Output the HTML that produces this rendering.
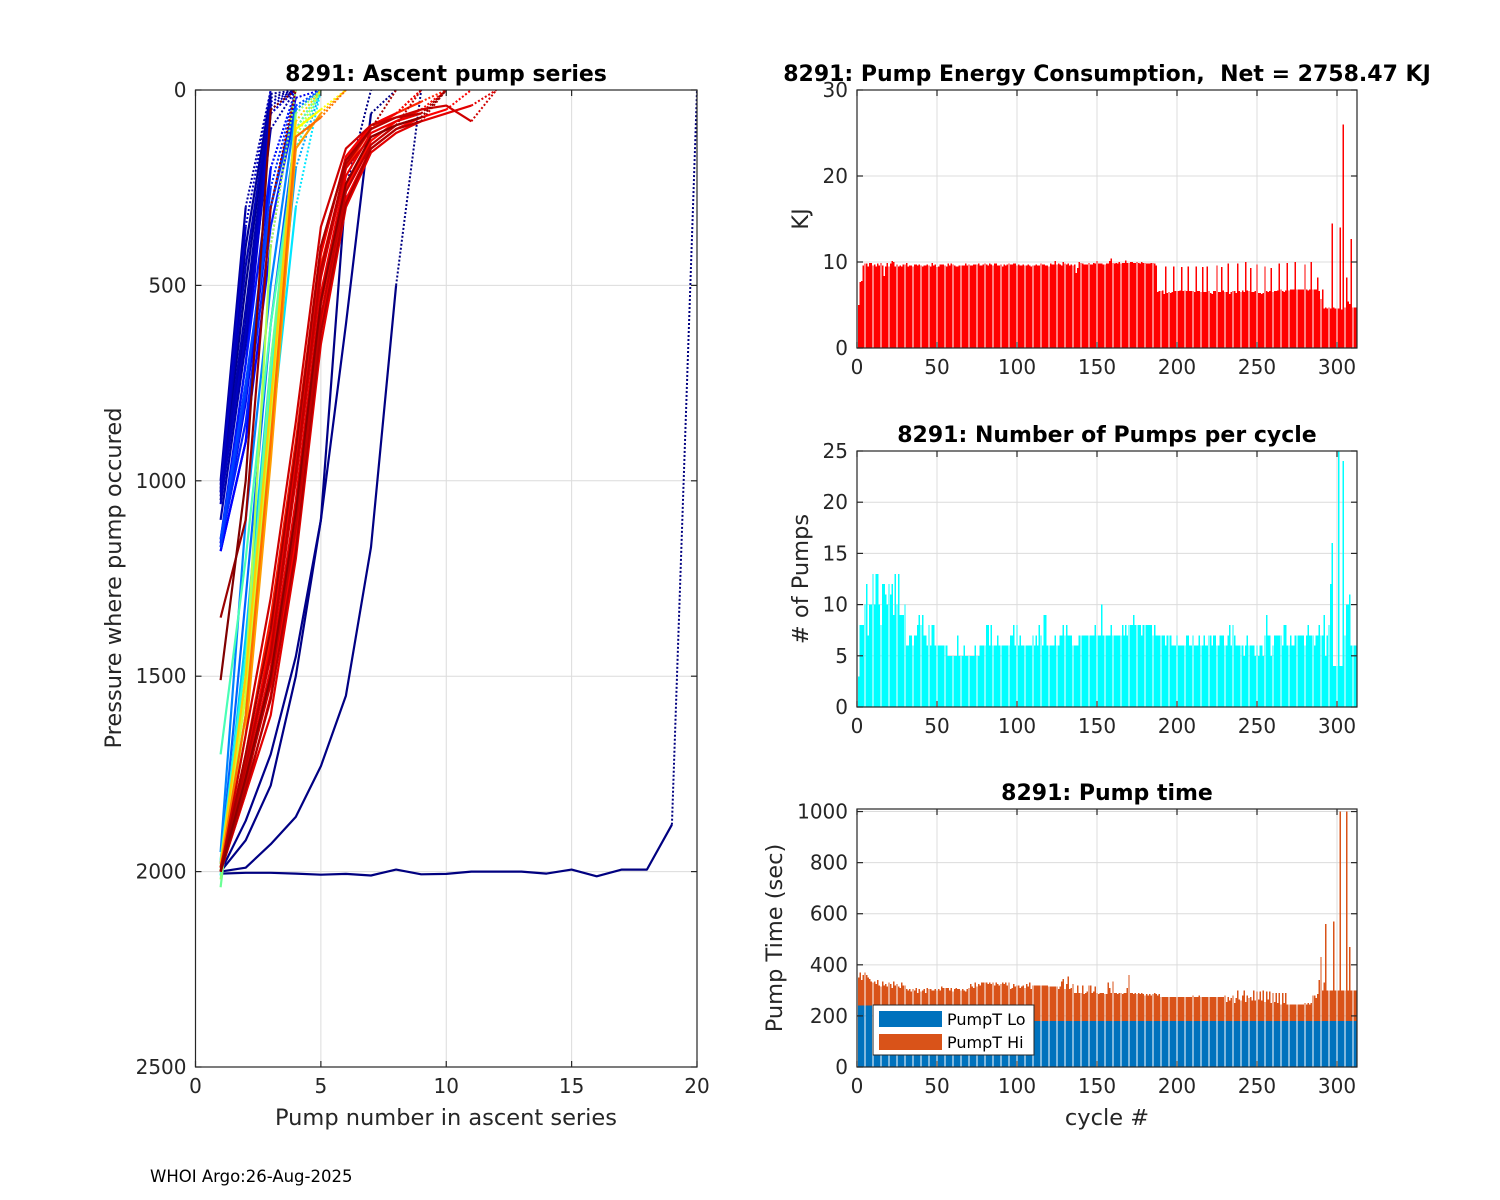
<!DOCTYPE html>
<html><head><meta charset="utf-8"><style>
html,body{margin:0;padding:0;background:#fff;}
svg{display:block;font-family:"DejaVu Sans","Liberation Sans",sans-serif;}
</style></head><body>
<svg id="fig" width="1500" height="1200" viewBox="0 0 1500 1200" xmlns="http://www.w3.org/2000/svg">
<rect width="1500" height="1200" fill="#fff"/>
<g id="left"></g>
<g id="energy"></g>
<g id="pumps"></g>
<g id="ptime"></g>
<text x="150" y="1182" font-size="16.5" fill="#000">WHOI Argo:26-Aug-2025</text>
</svg>
<script>
// ---------- data ----------
const energyKJ = [5,7.7,7.8,9.6,9.8,9.8,9.5,9.9,9.9,9.6,9.7,9.5,9.8,9.6,9.9,9.6,8.4,9.5,9.9,9.5,
9.8,10.1,10,9.5,9.7,9.5,9.6,9.5,9.7,9.7,9.9,9.5,9.6,9.6,9.5,9.7,9.7,9.6,9.7,9.6,
9.5,9.6,9.6,9.7,9.6,9.5,9.9,9.6,9.7,9.4,9.5,9.7,9.7,9.7,9.6,9.5,9.8,9.6,9.8,9.7,
9.6,9.5,9.5,9.6,9.6,9.6,9.6,9.8,9.6,9.7,9.6,9.6,9.7,9.7,9.7,9.8,9.6,9.6,9.7,9.8,
9.7,9.6,9.8,9.7,9.6,9.8,9.8,9.6,9.6,9.7,9.5,9.7,9.6,9.7,9.8,9.7,9.7,9.8,9.8,9.6,
9.7,9.6,9.6,9.7,9.6,9.6,9.7,9.6,9.5,9.6,9.6,9.7,9.6,9.6,9.8,9.7,9.7,9.6,9.6,9.5,
9.8,9.7,9.7,10.1,9.7,9.8,9.7,9.6,10,9.8,9.7,9.8,9.6,9.7,9.6,9.7,8.7,9.3,10,9.9,
9.8,9.7,9.7,9.7,9.9,9.7,9.7,9.9,9.8,10.1,9.8,9.8,9.8,9.7,9.7,9.8,9.8,10.1,10.4,9.9,
9.8,9.9,9.8,10,9.8,9.9,9.9,10.2,9.9,9.9,10,10,9.9,9.9,10,9.9,9.8,10,9.9,9.9,
9.8,9.8,9.8,9.9,9.9,9.8,9.6,6.5,6.6,6.6,6.7,6.3,9.5,6.4,6.5,6.4,6.5,9.5,6.6,6.6,
6.6,6.7,9.4,6.6,6.7,6.6,9.5,6.6,6.6,6.6,6.5,9.5,6.6,6.6,6.5,9.4,6.5,6.5,9.5,6.6,
6.4,6.3,6.6,6.6,9.6,6.5,6.5,9.4,6.7,6.5,6.5,9.8,6.3,6.5,6.6,6.6,6.4,9.8,6.6,6.5,
6.7,6.5,10,6.7,6.6,9.3,6.5,6.5,6.6,9.7,6.4,6.4,6.3,6.4,9.5,6.6,6.5,6.6,9.3,6.5,
6.6,6.6,6.7,9.8,6.8,6.6,6.5,6.7,9.9,6.7,6.8,6.8,6.8,10,6.8,6.8,6.8,6.8,6.8,9.7,
6.8,6.7,6.8,10,6.8,6.8,6.8,8.2,6.6,5.7,6.8,4.6,4.7,4.6,4.7,4.6,14.5,4.7,4.6,4.6,
4.6,14,4.5,26,4.7,8.2,5.4,5.1,12.7,4.7,4.7,4.7];

const pumpCount = [3,8,8,8,10,12,7,10,10,13,10,13,13,10,8,12,12,11,10,12,
11,12,9,13,10,13,9,9,9,10,6,6,7,7,6,7,7,8,9,8,
9,7,7,6,8,6,8,8,6,6,6,6,6,6,6,6,5,5,5,5,
5,5,7,5,5,5,6,5,5,5,5,5,5,6,5,5,6,6,6,6,
8,8,6,8,6,6,6,7,6,6,6,6,6,6,6,7,7,8,6,8,
6,7,6,6,6,6,6,6,6,7,6,7,6,8,7,6,9,9,6,6,
6,6,6,7,6,6,7,7,8,7,8,7,7,7,6,6,6,6,7,7,
7,7,7,7,7,7,7,7,8,7,7,7,10,7,7,7,7,7,8,7,
7,7,7,7,7,8,7,8,7,8,8,8,9,8,8,8,8,7,8,8,
8,8,8,8,7,8,7,7,7,7,7,7,6,7,7,7,6,6,6,7,
6,6,6,6,6,7,7,6,6,7,6,6,6,7,6,6,7,6,6,7,
7,6,7,7,6,6,7,7,7,6,6,7,8,6,8,7,6,6,6,6,
6,5,6,7,6,6,6,6,5,6,5,6,6,5,7,9,7,7,5,6,
7,7,7,7,7,6,8,8,6,6,7,6,6,7,7,7,7,7,7,6,
7,8,7,7,7,6,7,7,8,7,7,9,5,7,8,12,16,4,4,4,
25,4,4,24,7,10,10,11,6,6,6,6];

const pumpTLo = [240,240,240,240,240,240,240,240,240,240,240,240,240,240,240,240,240,240,240,240,
240,240,240,240,240,240,240,240,240,240].concat(new Array(282).fill(180));

const pumpTHi = [110,130,100,120,130,120,110,105,95,90,95,85,100,80,75,95,80,85,75,90,
85,70,95,80,85,75,70,90,80,80,
125,120,125,115,125,120,130,110,125,115,120,125,110,130,125,125,120,120,125,120,
125,120,135,130,130,130,130,120,130,115,125,130,125,125,120,125,120,115,125,130,
145,135,130,150,135,145,140,150,150,150,150,145,150,145,150,140,150,145,140,145,
150,145,150,140,150,125,130,145,135,140,140,130,135,140,130,145,135,150,125,140,
140,140,140,140,140,140,140,140,140,135,135,135,135,135,135,125,135,155,165,125,
145,175,125,130,145,110,110,140,110,110,140,105,110,115,140,140,110,115,135,110,
105,110,110,110,105,105,150,130,110,155,110,110,105,110,110,105,110,110,130,180,
110,110,105,110,105,110,105,110,105,100,105,100,105,100,105,110,105,100,105,95,
95,95,95,95,95,95,95,95,95,95,95,95,95,95,95,95,95,95,95,100,
95,95,95,100,95,95,95,95,95,95,95,95,95,95,95,95,95,95,95,100,
75,95,80,90,100,70,90,120,85,80,100,120,75,100,90,95,80,120,80,115,
85,115,80,120,75,115,85,115,70,110,75,110,70,110,65,110,70,110,65,65,
65,65,65,65,65,65,65,65,65,70,65,70,65,70,100,100,90,105,160,250,
120,150,380,120,120,120,120,390,120,120,120,820,120,120,120,820,120,290,120,120,120,120];

// ascent profiles: cycle number (for colour) and pressure at each pump
const profileCycles = [1,2,3,4,
 6,8,10,12,14,16,18,20,22,
 26,30,35,40,45,50,55,60,70,80,
 90,100,110,120,130,140,150,160,170,180,195,210,225,240,
 262,266,270,273,276,279,282,285,288,291,294,297,300,304,308,312];
const profilePressures = [
 [2005,2003,2003,2005,2008,2006,2010,1995,2007,2006,2000,2000,2000,2005,1995,2012,1995,1995,1880],
 [2000,1990,1930,1860,1730,1550,1170,500],
 [2000,1920,1780,1500,1100,250],
 [2000,1870,1700,1450,1100,600,60],
 [1030,500,20],[1020,400,10],[1050,600,50],[1000,300],[1100,650,100],[1040,560,40],[1010,450,30],[1060,620,60],[1030,350],
 [1160,700,60],[1180,900,200],[1170,800,300,20],[1180,900,400],[1150,700,200],[1160,850,350,50],[1170,780,250],[1150,750,300,40],[1980,1300,600,100],[1950,1100,500,50],
 [1990,1500,800,200],[2000,1400,700,150],[1980,1600,900,300],[2010,1500,800,100],[1970,1450,750,120],[1700,1200,600,150],[2040,1500,700,100],[2020,1600,800,60],[2000,1500,400],[1990,1550,850,120],[2000,1600,900,100,50],[1980,1500,800,80],[2000,1650,950,150,60],[1990,1600,900,120,70],
 [2000,1750,1400,1000,450,200,100,60,30],
 [1990,1700,1350,900,400,180,90,60],
 [2000,1780,1500,1100,550,250,130,80,50],
 [2000,1800,1550,1150,600,280,150,100,70,50],
 [1990,1720,1420,950,420,170,90,60],
 [2000,1760,1480,1050,520,220,110,80,60],
 [2000,1800,1600,1200,650,300,160,110,80,60,40],
 [2000,1740,1450,1000,480,200,120,90,70],
 [2000,1650,1300,850,350,150,90,70,50,40,80],
 [2000,1770,1520,1120,580,260,140,90],
 [1990,1730,1440,980,460,190,100,70,60],
 [2000,1790,1560,1180,620,290,150,100,80],
 [2000,1700,1380,920,400,180,100],
 [1350,1100,300],
 [2000,1760,1500,1080,540,240,120,90,70],
 [1510,1000,50]
];

const leftXTicks = [0,5,10,15,20];
const leftYTicks = [0,500,1000,1500,2000,2500];
const cycleTicks = [0,50,100,150,200,250,300];
const energyTicks = [0,10,20,30];
const pumpTicks = [0,5,10,15,20,25];
const timeTicks = [0,200,400,600,800,1000];

// ---------- helpers ----------
const NS = "http://www.w3.org/2000/svg";
function mk(parent, tag, attrs, txt){
  const e = document.createElementNS(NS, tag);
  for (const k in attrs) e.setAttribute(k, attrs[k]);
  if (txt !== undefined) e.textContent = txt;
  parent.appendChild(e);
  return e;
}
function jet(t){
  const r = Math.max(0, Math.min(1, 1.5 - Math.abs(4*t - 3)));
  const g = Math.max(0, Math.min(1, 1.5 - Math.abs(4*t - 2)));
  const b = Math.max(0, Math.min(1, 1.5 - Math.abs(4*t - 1)));
  return `rgb(${Math.round(r*255)},${Math.round(g*255)},${Math.round(b*255)})`;
}
const TXT = "#262626";
const TICKF = 20, LABF = 22.5, TITF = 22;

function axesFrame(g, L, T, R, B, xTicks, xFn, yTicks, yFn, name){
  xTicks.forEach(v => { const x = xFn(v); if (x > L+1 && x < R-1) { const l = mk(g,'line',{x1:x,y1:T,x2:x,y2:B,stroke:'#dcdcdc','stroke-width':1});
    
     } });
  yTicks.forEach(v => { const y = yFn(v); if (y > T+1 && y < B-1) { const l = mk(g,'line',{x1:L,y1:y,x2:R,y2:y,stroke:'#dcdcdc','stroke-width':1});
    
     } });
}
function axesBox(g, L, T, R, B, xTicks, xFn, yTicks, yFn, name, xLab){
  const box = mk(g,'rect',{x:L,y:T,width:R-L,height:B-T,fill:'none',stroke:TXT,'stroke-width':1.2});
  
  
  xTicks.forEach(v => { const x = xFn(v);
    mk(g,'line',{x1:x,y1:B,x2:x,y2:B-6,stroke:TXT,'stroke-width':1.2});
    mk(g,'line',{x1:x,y1:T,x2:x,y2:T+6,stroke:TXT,'stroke-width':1.2});
    if (xLab) { const t = mk(g,'text',{x:x,y:B+26,'font-size':TICKF,fill:TXT,'text-anchor':'middle'}, String(v));
      
       } });
  yTicks.forEach(v => { const y = yFn(v);
    mk(g,'line',{x1:L,y1:y,x2:L+6,y2:y,stroke:TXT,'stroke-width':1.2});
    mk(g,'line',{x1:R,y1:y,x2:R-6,y2:y,stroke:TXT,'stroke-width':1.2});
    const t = mk(g,'text',{x:L-9,y:y+7,'font-size':TICKF,fill:TXT,'text-anchor':'end'}, String(v));
    
     });
}

// ---------- left chart ----------
(function(){
  const g = document.getElementById('left');
  const L=195.5, R=697, T=90, B=1067;
  const xS = v => L + (R-L)*v/20;
  const yS = v => T + (B-T)*v/2500;
  axesFrame(g,L,T,R,B,leftXTicks,xS,leftYTicks,yS,'ascent');
  const clip = mk(g,'clipPath',{id:'lc'}); mk(clip,'rect',{x:L,y:T,width:R-L,height:B-T});
  const lines = mk(g,'g',{'clip-path':'url(#lc)'});
  profilePressures.forEach((pr, i) => {
    const col = jet((profileCycles[i]-1)/311);
    const pts = pr.map((p, k) => xS(k+1).toFixed(1) + ',' + yS(p).toFixed(1)).join(' ');
    const pl = mk(lines,'polyline',{points:pts,fill:'none',stroke:col,'stroke-width':2.2,'stroke-linejoin':'round'});
    
    
    const n = pr.length;
    const d = mk(lines,'line',{x1:xS(n),y1:yS(pr[n-1]),x2:xS(n+1),y2:yS(0),stroke:col,'stroke-width':2,'stroke-dasharray':'2,2'});
    
    
  });
  axesBox(g,L,T,R,B,leftXTicks,xS,leftYTicks,yS,'ascent',true);
  const t = mk(g,'text',{x:446,y:81,'font-size':TITF,'font-weight':'bold','text-anchor':'middle',fill:'#000'},'8291: Ascent pump series');
   
  const xl = mk(g,'text',{x:446,y:1125,'font-size':LABF,'text-anchor':'middle',fill:TXT},'Pump number in ascent series');
   
  const yl = mk(g,'text',{x:0,y:0,'font-size':LABF,'text-anchor':'middle',fill:TXT,transform:'translate(121,578) rotate(-90)'},'Pressure where pump occured');
   
})();

// ---------- bar charts ----------
const BL=857, BR=1357, XMAX=312.5;
const cx = v => BL + (BR-BL)*v/XMAX;
const bw = (BR-BL)/XMAX*0.85;

function barChart(id, name, T, B, ymax, yTicks, series, colors, title, titleX, ylab, ylabX, xlab){
  const g = document.getElementById(id);
  const yS = v => B - (B-T)*v/ymax;
  axesFrame(g,BL,T,BR,B,cycleTicks,cx,yTicks,yS,name);
  const clip = mk(g,'clipPath',{id:id+'c'}); mk(clip,'rect',{x:BL,y:T,width:BR-BL,height:B-T});
  const bars = mk(g,'g',{'clip-path':'url(#'+id+'c)','shape-rendering':'crispEdges'});
  const n = series[0].length;
  for (let i=0;i<n;i++){
    let base = 0;
    series.forEach((s, k) => {
      const v = s[i];
      const r = mk(bars,'rect',{x:(cx(i+1)-bw/2).toFixed(2),y:yS(base+v).toFixed(2),width:bw.toFixed(2),height:(yS(base)-yS(base+v)).toFixed(2),fill:colors[k]});
      
      
      base += v;
    });
  }
  axesBox(g,BL,T,BR,B,cycleTicks,cx,yTicks,yS,name,true);
  const t = mk(g,'text',{x:titleX,y:T-9,'font-size':TITF,'font-weight':'bold','text-anchor':'middle',fill:'#000','xml:space':'preserve'},title);
   
  const yl = mk(g,'text',{x:0,y:0,'font-size':LABF,'text-anchor':'middle',fill:TXT,transform:`translate(${ylabX},${(T+B)/2}) rotate(-90)`},ylab);
   
  if (xlab){ const xl = mk(g,'text',{x:(BL+BR)/2,y:B+58,'font-size':LABF,'text-anchor':'middle',fill:TXT},xlab);
      }
  return g;
}
barChart('energy','energy',90,348,30,energyTicks,[energyKJ],['#ff0000'],'8291: Pump Energy Consumption,\u00a0 Net = 2758.47 KJ',1107,'KJ',808);
barChart('pumps','pumps',451,707,25,pumpTicks,[pumpCount],['#00ffff'],'8291: Number of Pumps per cycle',1107,'# of Pumps',808);
const pg = barChart('ptime','pumptime',809,1067,1010,timeTicks,[pumpTLo,pumpTHi],['#0072bd','#d95319'],'8291: Pump time',1107,'Pump Time (sec)',782,'cycle #');

// legend
(function(){
  const lg = mk(pg,'g',{});
  
  
  mk(lg,'rect',{x:873,y:1005,width:161,height:50,fill:'#fff',stroke:TXT,'stroke-width':1});
  const s1 = mk(lg,'rect',{x:879,y:1011,width:63,height:16,fill:'#0072bd'});
   
  const t1 = mk(lg,'text',{x:947,y:1025,'font-size':16,fill:'#000'},'PumpT Lo');
   
  const s2 = mk(lg,'rect',{x:879,y:1034,width:63,height:16,fill:'#d95319'});
   
  const t2 = mk(lg,'text',{x:947,y:1048,'font-size':16,fill:'#000'},'PumpT Hi');
   
})();
</script>
</body></html>
